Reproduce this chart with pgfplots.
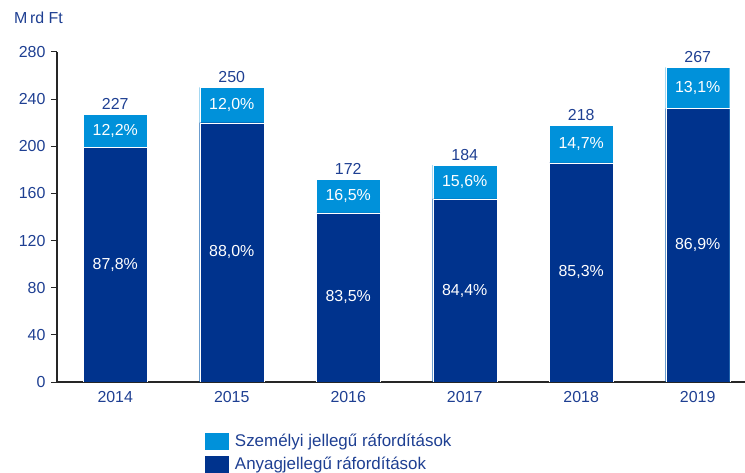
\documentclass[border=0pt]{standalone}
\usepackage{fontspec}
\setmainfont{Liberation Sans}
\usepackage{pgfplots}
\usepackage{pgfplotstable}
\pgfplotsset{compat=1.18}
\definecolor{darkb}{HTML}{00338D}
\definecolor{lightb}{HTML}{0091DA}
\definecolor{txt}{HTML}{1E3F92}
\pgfplotstableread{
x total bottom bmid tmid pb pt
0 227 199.3 99.65 213.15 87.8 12.2
1 250 220.0 110.0 235.0 88.0 12.0
2 172 143.6 71.8 157.8 83.5 16.5
3 184 155.3 77.65 169.65 84.4 15.6
4 218 186.0 93.0 202.0 85.3 14.7
5 267 232.0 116.0 249.5 86.9 13.1
}\data
\begin{document}
\begin{tikzpicture}
\path[use as bounding box] (0,0) rectangle (745bp,473bp);
\node[anchor=west, text=txt, font=\fontsize{16}{19}\selectfont, inner sep=0pt] at (14bp,455bp) {M\,rd Ft};
\begin{axis}[
  at={(57bp,91bp)}, anchor=south west,
  scale only axis, width=688bp, height=330bp,
  xmin=-0.5, xmax=5.406, ymin=0, ymax=280,
  axis lines*=left,
  axis line style={line width=1.2bp, black!85},
  ytick={0,40,...,280},
  xtick={0,...,5},
  xticklabels={2014,2015,2016,2017,2018,2019},
  tick align=outside,
  major tick length=6bp,
  major tick style={line width=1bp, black!85},
  x tick style={draw=none},
  /pgf/number format/assume math mode=true,
  tick label style={font=\fontsize{16}{19}\selectfont, text=txt},
  yticklabel style={xshift=-2bp},
  legend style={at={(0.210,-0.145)}, anchor=north west, draw=none, fill=none,
    font=\fontsize{17}{20}\selectfont, text=txt, row sep=5bp},
  legend cell align=left,
]
\addplot[ybar, bar width=0.55, bar shift=0pt, fill=lightb, draw=white, line width=0.3bp,
  nodes near coords={\pgfmathprintnumber[fixed,precision=0]{\pgfplotspointmeta}},
  point meta=y,
  every node near coord/.append style={font=\fontsize{16}{19}\selectfont, text=txt, yshift=1bp},
  legend image code/.code={\fill[lightb] (0bp,-8bp) rectangle (23bp,8bp);}]
  table[x=x, y=total] {\data};
\addlegendentry{\hspace{5bp}Személyi jellegű ráfordítások}
\addplot[ybar, bar width=0.55, bar shift=0pt, fill=darkb, draw=white, line width=0.3bp,
  legend image code/.code={\fill[darkb] (0bp,-8bp) rectangle (23bp,8bp);}]
  table[x=x, y=bottom] {\data};
\addlegendentry{\hspace{5bp}Anyagjellegű ráfordítások}
\addplot[draw=none, mark=none, forget plot,
  nodes near coords={\pgfmathprintnumber[fixed,fixed zerofill,precision=1,use comma]{\pgfplotspointmeta}\%},
  point meta=explicit,
  every node near coord/.append style={font=\fontsize{16}{19}\selectfont, text=white, anchor=center}]
  table[x=x, y=bmid, meta=pb] {\data};
\addplot[draw=none, mark=none, forget plot,
  nodes near coords={\pgfmathprintnumber[fixed,fixed zerofill,precision=1,use comma]{\pgfplotspointmeta}\%},
  point meta=explicit,
  every node near coord/.append style={font=\fontsize{16}{19}\selectfont, text=white, anchor=center}]
  table[x=x, y=tmid, meta=pt] {\data};
\end{axis}
\end{tikzpicture}
\end{document}
